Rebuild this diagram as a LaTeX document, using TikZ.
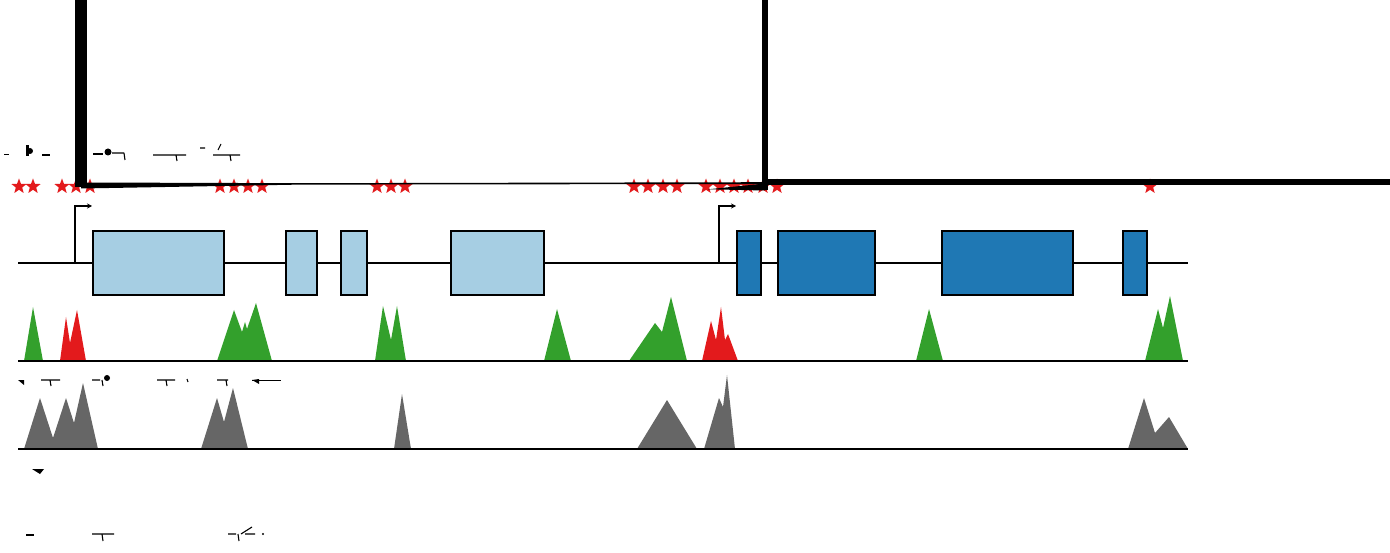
\documentclass[tikz,border=0pt]{standalone}
\usetikzlibrary{shapes.geometric,arrows.meta}
\definecolor{exlight}{HTML}{A6CEE3}
\definecolor{exdark}{HTML}{1F78B4}
\definecolor{pkgreen}{HTML}{33A02C}
\definecolor{pkred}{HTML}{E31A1C}
\definecolor{pkgrey}{HTML}{666666}
\tikzset{
  exonA/.style={draw=black, line width=1.6pt, fill=exlight, inner sep=0pt, anchor=north west},
  exonB/.style={draw=black, line width=1.6pt, fill=exdark, inner sep=0pt, anchor=north west},
  axisline/.style={line width=1.6pt, black},
  tssarrow/.style={line width=1.4pt, -{Stealth[length=5pt,width=5pt]}},
  mark star/.style={star, star points=5, star point ratio=2.4, fill=pkred, draw=none,
                    minimum size=16pt, inner sep=0pt},
  frag/.style={line width=1.1pt, black},
}
\newcommand{\exonbox}[6]{\node[#1, minimum width=#4pt, minimum height=#5pt] (#6) at (#2,#3) {};}
\begin{document}
\begin{tikzpicture}[x=1pt,y=-1pt]
\useasboundingbox (0,0) rectangle (1390,553);

% backbone
\coordinate (bbL) at (18,263);
\coordinate (bbR) at (1188,263);
\draw[axisline] (bbL) -- (bbR);

% exons, first gene
\exonbox{exonA}{92}{230}{131}{64}{a1}
\exonbox{exonA}{285}{230}{31}{64}{a2}
\exonbox{exonA}{340}{230}{26}{64}{a3}
\exonbox{exonA}{450}{230}{93}{64}{a4}
% exons, second gene
\exonbox{exonB}{736}{230}{24}{64}{b1}
\exonbox{exonB}{777}{230}{97}{64}{b2}
\exonbox{exonB}{941}{230}{131}{64}{b3}
\exonbox{exonB}{1122}{230}{24}{64}{b4}

% promoter arrows
\coordinate (tss1) at (75,263);
\coordinate (tss1top) at (75,206);
\coordinate (tss2) at (719,263);
\coordinate (tss2top) at (719,206);
\draw[tssarrow] (tss1) -- (tss1top) -- (a1.north west |- tss1top);
\draw[tssarrow] (tss2) -- (tss2top) -- (b1.north west |- tss2top);

% stars
\foreach \x [count=\i] in {19,33,62,76,90,220,234,248,262,377,391,405,634,648,663,677,706,720,734,748,763,777,1150}
  \node[mark star] (s\i) at (\x,186.5) {};

% thick black strokes across the top
\fill[black] (74.5,0) rectangle (87,187.5);
\fill[black] (81,182.5) -- (300,183.2) -- (765,182.2) -- (765,184) -- (300,184.6) -- (81,188.5) -- cycle;
\fill[black] (708,189.3) -- (765,183.5) -- (765,190.5) -- cycle;
\fill[black] (762,0) rectangle (768,190.5);
\fill[black] (765,179) rectangle (1390,185);

% track 1 peaks
\fill[pkgreen] (24,361) -- (33,307) -- (43,361) -- cycle;
\fill[pkred] (60,361) -- (66,317) -- (70,343) -- (77,310) -- (86,361) -- cycle;
\fill[pkgreen] (217,361) -- (234,310) -- (242,332) -- (245,322) -- (247,329) -- (256,303) -- (272,361) -- cycle;
\fill[pkgreen] (375,361) -- (383,306) -- (391,340) -- (397,306) -- (406,361) -- cycle;
\fill[pkgreen] (544,361) -- (557,309) -- (571,361) -- cycle;
\fill[pkgreen] (629,361) -- (655,323) -- (662,332) -- (671,297) -- (687,361) -- cycle;
\fill[pkred] (702,361) -- (711,321) -- (716,340) -- (721,307) -- (725,340) -- (728,334) -- (738,361) -- cycle;
\fill[pkgreen] (916,361) -- (929,309) -- (943,361) -- cycle;
\fill[pkgreen] (1145,361) -- (1158,309) -- (1163,328) -- (1170,296) -- (1183,361) -- cycle;
\coordinate (t1L) at (18,361);
\coordinate (t1R) at (1188,361);
\draw[axisline] (t1L) -- (t1R);

% track 2 peaks
\fill[pkgrey] (24,449) -- (40,398) -- (53,438) -- (66,398) -- (74,423) -- (83,383) -- (98,449) -- cycle;
\fill[pkgrey] (201,449) -- (217,398) -- (224,422) -- (233,388) -- (248,449) -- cycle;
\fill[pkgrey] (394,449) -- (402,394) -- (411,449) -- cycle;
\fill[pkgrey] (637,449) -- (667,400) -- (697,449) -- cycle;
\fill[pkgrey] (704,449) -- (719,398) -- (723,407) -- (727,375) -- (735,449) -- cycle;
\fill[pkgrey] (1128,449) -- (1144,398) -- (1155,433) -- (1169,417) -- (1188,449) -- cycle;
\coordinate (t2L) at (18,449);
\coordinate (t2R) at (1188,449);
\draw[axisline] (t2L) -- (t2R);

% small broken marks
\draw[frag] (4,154.5) -- (9,154.5);
\fill[black] (26,145) rectangle (29,156);
\fill[black] (30,151) circle (3pt);
\draw[frag] (42,155) -- (50,155);
\draw[frag] (93,154) -- (103,154);
\fill[black] (108,152) circle (3.5pt);
\draw[frag] (112,153) -- (124,153) (124,153) -- (125,160);
\draw[frag] (153,155) -- (186,155) (176,155) -- (177,161);
\draw[frag] (200,148) -- (205,148) (213,155) -- (240,155) (218,150) -- (221,144) (230,155) -- (231,161);
\fill[black] (18,380) -- (24,380) -- (24,385) -- cycle;
\draw[frag] (41,380) -- (60,380) (50,380) -- (51,386);
\draw[frag] (92,380) -- (100,380) (102,380) -- (103,386);
\fill[black] (107,378) circle (3pt);
\draw[frag] (157,380) -- (175,380) (166,380) -- (167,386);
\draw[frag] (187,379) -- (188,382);
\draw[frag] (217,380) -- (228,380) (226,380) -- (227,386);
\draw[frag] (252,380.5) -- (281,380.5);
\fill[black] (252,380) -- (259,379) -- (259,384) -- cycle;
\fill[black] (32,469) -- (44,469) -- (40,474) -- cycle;
\draw[frag] (26,535) -- (34,535);
\draw[frag] (92,534) -- (114,534) (102,534) -- (103,541);
\draw[frag] (228,534) -- (236,534) (238,534) -- (239,541) (241,534) -- (252,527) (245,534) -- (255,534);
\fill[black] (263,534) circle (1.2pt);
\end{tikzpicture}
\end{document}
